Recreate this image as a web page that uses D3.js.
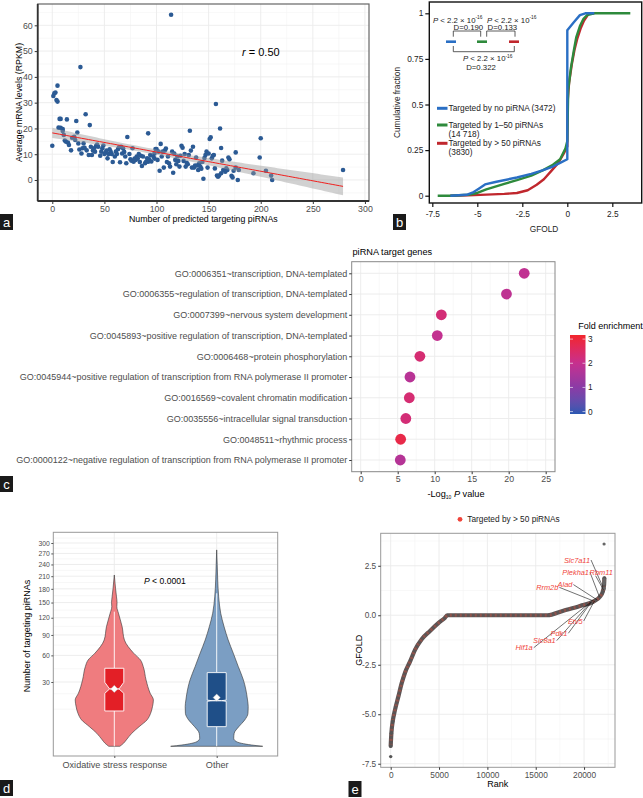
<!DOCTYPE html>
<html><head><meta charset="utf-8">
<script src="https://cdn.jsdelivr.net/npm/d3@7"></script>
<style>
body{margin:0;background:#fff;}
svg text{font-family:"Liberation Sans",Arial,Helvetica,sans-serif;}
</style></head><body>
<svg id="fig" width="643" height="798"></svg>
<script>
// ================= DATA =================
// Panel a: number of predicted targeting piRNAs vs mRNA level
const piCount = [0,1,2,3,4,5,5,7,8,6,8,10,10,11,12,13,14,15,16,18,19,21,22,23,24,25,26,27,28,29,30,31,32,33,35,36,37,38,39,40,41,42,43,44,46,47,48,49,50,51,52,53,54,55,56,57,58,60,61,62,63,64,65,66,67,68,69,70,71,72,74,75,76,77,78,79,80,81,82,83,84,85,86,87,89,90,91,92,92,93,94,95,97,98,98,99,100,101,102,103,104,105,106,107,108,109,110,111,112,113,114,115,116,117,118,119,120,121,122,123,124,125,126,127,128,129,130,131,132,133,134,135,136,137,138,139,140,141,142,143,144,145,146,147,148,149,150,151,152,153,154,155,156,157,158,159,160,161,162,162,163,164,166,167,168,169,170,172,173,174,176,176,178,179,193,199,200,205,210,211,279];
const mrnaLevel = [13.3,32.6,33.6,33.9,31,30.4,36.6,23.7,23.7,20.3,20.2,19.8,19,17.5,15.3,14.9,23.5,14.5,13.6,11.5,16.4,16.8,15.5,22.9,18.4,14.2,11.8,43.8,10.3,12.3,14.2,12.5,25.5,11.5,9.7,21.3,12.9,9.7,11.4,12.3,11,13.2,13.7,12.9,9.4,11,12.3,13.4,10.1,10.6,11.4,8.4,10.1,11.9,11,10.1,7,9.1,11,10.1,11.9,12.7,6.9,12.9,10.3,12.2,10.9,9.1,6.5,16.7,10.1,8,7.5,12.3,7.1,8.3,7.8,9.1,8.3,10.1,7,9.4,5.4,9.1,6.5,7.1,8.4,7.1,18.1,8,9.7,7.2,9.1,8.3,10.3,12,12,7.8,11,3.6,14,9.1,11,4.8,11.4,12.2,7,9.1,6.5,5.2,64.1,11,2.8,10.3,7.8,6.1,9.1,7.4,5.2,9.4,13.3,12.5,7.4,10.1,5.2,6.7,6.1,9.7,19.1,11.4,4.8,12.9,4.8,5.6,8.7,5.6,3.9,6.5,5.2,4.4,7,0.5,8.5,9.7,11,4.8,10.3,15.9,16.6,8.4,9.4,9.7,4.5,29.5,1.7,1.3,1.7,20,12.4,2.6,7.5,3.9,3.2,4.5,3.9,8.7,8,1.6,1,3.6,4.8,10.7,0,3.9,2.6,8.7,16.2,3.6,1.7,0,3.9];
const aXTicks = [0,50,100,150,200,250,300];
const aYTicks = [0,10,20,30,40,50,60];

// Panel b: cumulative distributions of GFOLD
const bBlueX  = [-6.5,-5.6,-5.2,-4.9,-4.57,-4.0,-2.8,-2.0,-1.34,-0.8,-0.4,0,0,0.35,0.7,1.0,1.5];
const bBlueY  = [0,0.005,0.02,0.04,0.062,0.075,0.10,0.12,0.14,0.16,0.18,0.2,0.907,0.95,0.99,1,1];
const bGreenX = [-7.2,-6.5,-5.5,-5.0,-4.5,-3.5,-2.8,-2.0,-1.34,-0.8,-0.4,-0.1,0,0.05,0.2,0.37,0.5,0.7,0.9,1.1,1.5,2.5,3.5];
const bGreenY = [0,0,0.005,0.015,0.035,0.065,0.085,0.11,0.14,0.17,0.2,0.26,0.3,0.58,0.7,0.8,0.87,0.93,0.97,0.99,1,1,1];
const bRedX   = [-6.5,-5.5,-4.5,-3.5,-2.8,-2.2,-1.7,-1.3,-0.85,-0.5,-0.2,0,0.02,0.1,0.25,0.4,0.55,0.75,0.93,1.2,1.5];
const bRedY   = [0,0.002,0.006,0.01,0.015,0.03,0.06,0.09,0.14,0.18,0.23,0.27,0.52,0.62,0.72,0.8,0.86,0.92,0.96,1,1];
const bXTicks = [-7.5,-5,-2.5,0,2.5];
const bXTickLabels = ["-7.5","-5","-2.5","0","2.5"];
const bYTicks = [0,0.25,0.5,0.75,1];
const bYTickLabels = ["0","0.25","0.5","0.75","1"];
const bLegend = ["Targeted by no piRNA (3472)","Targeted by 1–50 piRNAs","Targeted by > 50 piRNAs"];
const bLegendSub = ["","(14 718)","(3830)"];

// Panel c: GO enrichment
const goTerms = [
 "GO:0006351~transcription, DNA-templated",
 "GO:0006355~regulation of transcription, DNA-templated",
 "GO:0007399~nervous system development",
 "GO:0045893~positive regulation of transcription, DNA-templated",
 "GO:0006468~protein phosphorylation",
 "GO:0045944~positive regulation of transcription from RNA polymerase II promoter",
 "GO:0016569~covalent chromatin modification",
 "GO:0035556~intracellular signal transduction",
 "GO:0048511~rhythmic process",
 "GO:0000122~negative regulation of transcription from RNA polymerase II promoter"];
const goLogP = [22.1,19.7,10.9,10.35,8.0,6.66,6.57,6.1,5.4,5.35];
const goFold = [1.9,1.85,2.3,1.95,2.35,1.75,2.35,2.3,2.85,1.7];
const cXTicks = [0,5,10,15,20,25];
const cLegendTicks = [0,1,2,3];

// Panel d: violins
const dGroups = ["Oxidative stress response","Other"];
const dRedV = [0,0.065,0.29,1.23,2.79,5.03,7.9,11.4,15.6,20.4,32,46,54,63,82,104,128.6,141.6,150,162,180,213];
const dRedD = [0.12,0.2,0.26,0.38,0.54,0.71,0.79,0.83,0.85,0.78,0.69,0.63,0.57,0.42,0.22,0.17,0.09,0.055,0.06,0.048,0.028,0];
const dBlueV = [0,0.012,0.065,0.2,0.47,1.23,2.79,5.03,7.9,11.4,15.6,32,46,63,82,104,128.6,162,201,240,280];
const dBlueD = [1.0,0.76,0.54,0.41,0.37,0.38,0.48,0.61,0.68,0.685,0.67,0.58,0.47,0.36,0.25,0.16,0.087,0.043,0.022,0.011,0];
const dQ1 = [9.06,2.8], dMed = [23.9,15.1], dQ3 = [44.2,39.4];
const dWhiskLo = [0,0], dWhiskHi = [131.6,170];
const dNotchLo = [20.4,14.7], dNotchHi = [29.7,15.5];
const dMean = [23.9,17.2];
const dYTicks = [30,60,90,120,150,180,210,240,270,300];
const dYExtraGrid = [10,20];
const dPText = "P < 0.0001";

// Panel e: ranked GFOLD
const eRank  = [0,0,70,207,445,790,1138,1480,1997,2514,3207,4066,4924,5618,5856,16200,17860,19583,20960,21650,21930,22070,22100];
const eGfold = [-7.14,-6.6,-5.96,-5.37,-4.78,-4.11,-3.43,-2.9,-2.34,-1.75,-1.21,-0.79,-0.40,-0.12,0,0,0.23,0.47,0.69,0.94,1.19,1.53,1.87];
const eTailRank = [22070,22090,22100,22080,22070];
const eTailGfold = [3.6,1.7,1.8,1.35,1.6];
const eGenes = ["Slc7a11","Plekha1","Rbm11","Rrm2b","Alad","Etv5","Pdk1","Slc8a1","Hif1a"];
const eGeneRank = [21930,21580,22010,21140,21370,21030,20790,20690,20620];
const eGeneGfold = [1.44,0.94,1.28,0.69,0.77,0.69,0.69,0.66,0.64];
const eXTicks = [0,5000,10000,15000,20000];
const eYTicks = [2.5,0,-2.5,-5,-7.5];
const eYTickLabels = ["2.5","0.0","-2.5","-5.0","-7.5"];
// label placement (layout, in data units) for repelled gene labels
const eLabelRank  = [20620,20510,20570,17340,18790,19860,18270,17070,14690];
const eLabelGfold = [2.79,2.17,2.15,1.41,1.55,-0.29,-0.91,-1.28,-1.64];
const eLabelAnchor = ["end","end","start","end","end","end","end","end","end"];

// ================= DRAW =================
const svg = d3.select("#fig");
const GRID_MAJ = "#ebebeb", GRID_MIN = "#f4f4f4", TICKTXT = "#4d4d4d";

function label(g, x, y, s){
  g.append("rect").attr("x",x).attr("y",y).attr("width",13).attr("height",16).attr("fill","#1a1a1a");
  g.append("text").attr("x",x+6.5).attr("y",y+12.5).attr("text-anchor","middle").attr("fill","#fff")
   .attr("font-size",13).text(s);
}

// ---------- Panel a ----------
(function(){
  const g = svg.append("g");
  const A = {l:37.7,r:369,t:4,b:201};
  const x = d3.scaleLinear().domain([-14.0,303.9]).range([A.l,A.r]);
  const y = d3.scaleLinear().domain([-8.15,68.27]).range([A.b,A.t]);
  const minorX = d3.range(25,300,50), minorY = d3.range(-5,70,10);
  g.selectAll(".mx").data(minorX).join("line").attr("x1",x).attr("x2",x).attr("y1",A.t).attr("y2",A.b).attr("stroke",GRID_MIN).attr("stroke-width",0.6);
  g.selectAll(".my").data(minorY).join("line").attr("y1",y).attr("y2",y).attr("x1",A.l).attr("x2",A.r).attr("stroke",GRID_MIN).attr("stroke-width",0.6);
  g.selectAll(".Mx").data(aXTicks).join("line").attr("x1",x).attr("x2",x).attr("y1",A.t).attr("y2",A.b).attr("stroke",GRID_MAJ).attr("stroke-width",0.9);
  g.selectAll(".My").data(aYTicks).join("line").attr("y1",y).attr("y2",y).attr("x1",A.l).attr("x2",A.r).attr("stroke",GRID_MAJ).attr("stroke-width",0.9);

  // linear fit with 95% CI computed from the points
  const n = piCount.length;
  const mx = d3.mean(piCount), my = d3.mean(mrnaLevel);
  let sxx=0,sxy=0; for(let i=0;i<n;i++){sxx+=(piCount[i]-mx)**2; sxy+=(piCount[i]-mx)*(mrnaLevel[i]-my);}
  const slope = sxy/sxx, inter = my - slope*mx;
  let sse=0; for(let i=0;i<n;i++){sse+=(mrnaLevel[i]-inter-slope*piCount[i])**2;}
  const s = Math.sqrt(sse/(n-2)), t = 1.973;
  const xs = d3.range(d3.min(piCount), d3.max(piCount)+0.01, (d3.max(piCount)-d3.min(piCount))/80);
  const band = xs.map(v=>{const se = s*Math.sqrt(1/n+(v-mx)**2/sxx); const f = inter+slope*v; return {v,lo:f-t*se,hi:f+t*se,f};});

  g.selectAll(".pt").data(piCount).join("circle").attr("cx",d=>x(d)).attr("cy",(d,i)=>y(mrnaLevel[i])).attr("r",2.3).attr("fill","#2b5a94");
  g.append("path").datum(band).attr("d",d3.area().x(d=>x(d.v)).y0(d=>y(d.lo)).y1(d=>y(d.hi))).attr("fill","#999").attr("opacity",0.45);
  g.append("path").datum(band).attr("d",d3.line().x(d=>x(d.v)).y(d=>y(d.f))).attr("fill","none").attr("stroke","#f0201e").attr("stroke-width",1);

  g.append("rect").attr("x",A.l).attr("y",A.t).attr("width",A.r-A.l).attr("height",A.b-A.t).attr("fill","none").attr("stroke","#666").attr("stroke-width",1.2);
  g.append("line").attr("x1",A.l).attr("x2",A.l).attr("y1",A.t).attr("y2",A.b).attr("stroke","#333").attr("stroke-width",1.8);
  g.append("line").attr("x1",A.l).attr("x2",A.r).attr("y1",A.b).attr("y2",A.b).attr("stroke","#333").attr("stroke-width",1.8);

  const ax = g.append("g").attr("transform",`translate(0,${A.b})`).call(d3.axisBottom(x).tickValues(aXTicks).tickSize(3).tickPadding(2));
  const ay = g.append("g").attr("transform",`translate(${A.l},0)`).call(d3.axisLeft(y).tickValues(aYTicks).tickSize(3).tickPadding(2));
  [ax,ay].forEach(a=>{a.select(".domain").remove(); a.selectAll("line").attr("stroke","#333"); a.selectAll("text").attr("font-size",8.8).attr("fill",TICKTXT).attr("font-family",null);});
  g.append("text").attr("x",(A.l+A.r)/2).attr("y",221.5).attr("text-anchor","middle").attr("font-size",8.8).text("Number of predicted targeting piRNAs");
  g.append("text").attr("transform",`translate(21.5,${(A.t+A.b)/2}) rotate(-90)`).attr("text-anchor","middle").attr("font-size",8.8).text("Average mRNA levels (RPKM)");
  const rt = g.append("text").attr("x",242).attr("y",55.5).attr("font-size",11);
  rt.append("tspan").attr("font-style","italic").text("r");
  rt.append("tspan").text(" = 0.50");
  label(g,0,214,"a");
})();

// ---------- Panel b ----------
(function(){
  const g = svg.append("g");
  const B = {l:429.3,r:641.7,t:2,b:203};
  const x = d3.scaleLinear().domain([-7.667,4.133]).range([B.l,B.r]);
  const y = d3.scaleLinear().domain([-0.04,1.062]).range([B.b,B.t]);
  const line = d3.line().x(d=>x(d[0])).y(d=>y(d[1]));
  const series = [
    {xs:bRedX, ys:bRedY, c:"#c0272d"},
    {xs:bGreenX, ys:bGreenY, c:"#2e8a3c"},
    {xs:bBlueX, ys:bBlueY, c:"#2a6fc4"}];
  series.forEach(s=>{
    g.append("path").datum(s.xs.map((v,i)=>[v,s.ys[i]])).attr("d",line).attr("fill","none").attr("stroke",s.c).attr("stroke-width",2.4).attr("stroke-linejoin","round");
  });
  g.append("rect").attr("x",B.l).attr("y",B.t).attr("width",B.r-B.l).attr("height",B.b-B.t).attr("fill","none").attr("stroke","#111").attr("stroke-width",1.4);
  const ax = g.append("g").attr("transform",`translate(0,${B.b})`).call(d3.axisBottom(x).tickValues(bXTicks).tickFormat((d,i)=>bXTickLabels[i]).tickSize(4).tickPadding(4));
  const ay = g.append("g").attr("transform",`translate(${B.l},0)`).call(d3.axisLeft(y).tickValues(bYTicks).tickFormat((d,i)=>bYTickLabels[i]).tickSize(4).tickPadding(2));
  [ax,ay].forEach(a=>{a.select(".domain").remove(); a.selectAll("line").attr("stroke","#111").attr("stroke-width",1.2); a.selectAll("text").attr("font-size",8.3).attr("fill","#222").attr("font-family",null);});
  g.append("text").attr("x",544).attr("y",232).attr("text-anchor","middle").attr("font-size",8.3).attr("fill","#222").text("GFOLD");
  g.append("text").attr("transform",`translate(400,${(B.t+B.b)/2}) rotate(-90)`).attr("text-anchor","middle").attr("font-size",8.3).attr("fill","#222").text("Cumulative fraction");

  // legend
  const cols = ["#2a6fc4","#2e8a3c","#c0272d"];
  const ly = [108.3,125,143.3];
  bLegend.forEach((t,i)=>{
    g.append("line").attr("x1",437).attr("x2",447.5).attr("y1",ly[i]).attr("y2",ly[i]).attr("stroke",cols[i]).attr("stroke-width",3);
    g.append("text").attr("x",448.5).attr("y",ly[i]+3).attr("font-size",8.3).attr("fill","#222").text(t);
    if(bLegendSub[i]) g.append("text").attr("x",448.5).attr("y",ly[i]+11.5).attr("font-size",8.3).attr("fill","#222").text(bLegendSub[i]);
  });

  // KS annotation
  function ptext(px,py,anchor){
    const t = g.append("text").attr("x",px).attr("y",py).attr("font-size",7.8).attr("fill","#222").attr("text-anchor",anchor);
    t.append("tspan").attr("font-style","italic").text("P");
    t.append("tspan").text(" < 2.2 × 10");
    t.append("tspan").attr("font-size",4.8).attr("dy",-3.5).text("-16");
  }
  ptext(433,22.5,"start"); ptext(487,22.5,"start"); ptext(463,61,"start");
  g.append("text").attr("x",453.5).attr("y",30.3).attr("font-size",7.8).attr("fill","#222").text("D=0.190");
  g.append("text").attr("x",487.5).attr("y",30.3).attr("font-size",7.8).attr("fill","#222").text("D=0.133");
  g.append("text").attr("x",481).attr("y",69.8).attr("font-size",7.8).attr("fill","#222").attr("text-anchor","middle").text("D=0.322");
  const brk = g.append("g").attr("fill","none").attr("stroke","#333").attr("stroke-width",0.8);
  brk.append("path").attr("d","M453.3,36.7V31H480.7V36.7");
  brk.append("path").attr("d","M486.7,36.7V31H515V36.7");
  brk.append("path").attr("d","M453.3,46V51.7H514.3V46");
  [[446,456,cols[0]],[477,487,cols[1]],[509,519,cols[2]]].forEach(s=>{
    g.append("line").attr("x1",s[0]).attr("x2",s[1]).attr("y1",41.7).attr("y2",41.7).attr("stroke",s[2]).attr("stroke-width",2.6);
  });
  label(g,393,214,"b");
})();

// ---------- Panel c ----------
(function(){
  const g = svg.append("g");
  const C = {l:351.7,r:555,t:261.7,b:471.7};
  const x = d3.scaleLinear().domain([-1.216,26.26]).range([C.l,C.r]);
  const y = d3.scalePoint().domain(goTerms).range([273.3,460]);
  const col = d3.scaleLinear().domain([-0.1,1,2,3.17]).range(["#2a58b2","#8a3aa6","#c6308f","#f2262c"]).interpolate(d3.interpolateLab);
  g.selectAll(".mx").data(d3.range(2.5,26,5)).join("line").attr("x1",x).attr("x2",x).attr("y1",C.t).attr("y2",C.b).attr("stroke",GRID_MIN).attr("stroke-width",0.6);
  g.selectAll(".Mx").data(cXTicks).join("line").attr("x1",x).attr("x2",x).attr("y1",C.t).attr("y2",C.b).attr("stroke",GRID_MAJ).attr("stroke-width",0.9);
  g.selectAll(".My").data(goTerms).join("line").attr("y1",d=>y(d)).attr("y2",d=>y(d)).attr("x1",C.l).attr("x2",C.r).attr("stroke",GRID_MAJ).attr("stroke-width",0.9);
  g.append("rect").attr("x",C.l).attr("y",C.t).attr("width",C.r-C.l).attr("height",C.b-C.t).attr("fill","none").attr("stroke","#888").attr("stroke-width",1);
  g.selectAll(".dot").data(goTerms).join("circle").attr("cx",(d,i)=>x(goLogP[i])).attr("cy",d=>y(d)).attr("r",5.4).attr("fill",(d,i)=>col(goFold[i]));
  const ax = g.append("g").attr("transform",`translate(0,${C.b})`).call(d3.axisBottom(x).tickValues(cXTicks).tickSize(2.5).tickPadding(2));
  const ay = g.append("g").attr("transform",`translate(${C.l},0)`).call(d3.axisLeft(y).tickSize(2.5).tickPadding(2));
  [ax,ay].forEach(a=>{a.select(".domain").remove(); a.selectAll("line").attr("stroke","#333"); a.selectAll("text").attr("font-size",8.8).attr("fill",TICKTXT).attr("font-family",null);});
  ay.selectAll("text").attr("font-size",9.0);
  g.append("text").attr("x",352.5).attr("y",255).attr("font-size",9.2).text("piRNA target genes");
  const xt = g.append("text").attr("x",456).attr("y",496.5).attr("text-anchor","middle").attr("font-size",9.2);
  xt.append("tspan").text("-Log");
  xt.append("tspan").attr("font-size",5).attr("dy",2.5).text("10");
  xt.append("tspan").attr("dy",-2.5).text(" ");
  xt.append("tspan").attr("font-style","italic").text("P");
  xt.append("tspan").text(" value");

  // colour bar legend
  const ly = d3.scaleLinear().domain([-0.1,3.17]).range([414,335]);
  const defs = svg.append("defs");
  const grad = defs.append("linearGradient").attr("id","fe").attr("x1",0).attr("x2",0).attr("y1",1).attr("y2",0);
  d3.range(0,1.0001,0.05).forEach(t=>{grad.append("stop").attr("offset",t).attr("stop-color",col(-0.1+t*3.27));});
  g.append("rect").attr("x",570).attr("y",ly(3.17)).attr("width",15.5).attr("height",ly(-0.1)-ly(3.17)).attr("fill","url(#fe)");
  cLegendTicks.forEach(v=>{
    g.append("line").attr("x1",570).attr("x2",573).attr("y1",ly(v)).attr("y2",ly(v)).attr("stroke","#fff").attr("stroke-width",0.6);
    g.append("line").attr("x1",582.5).attr("x2",585.5).attr("y1",ly(v)).attr("y2",ly(v)).attr("stroke","#fff").attr("stroke-width",0.6);
    g.append("text").attr("x",588).attr("y",ly(v)+3).attr("font-size",8.3).attr("fill","#222").text(v);
  });
  g.append("text").attr("x",578.3).attr("y",328.5).attr("font-size",9).text("Fold enrichment");
  label(g,0,476,"c");
})();

// ---------- Panel d ----------
(function(){
  const g = svg.append("g");
  const D = {l:53.3,r:277.7,t:532.3,b:756};
  const y = d3.scaleSqrt().domain([0,300]).range([746.3,543]);
  const x = d3.scalePoint().domain(dGroups).range([114.3,216.7]);
  const w = d3.scaleLinear().domain([0,1]).range([0,46]);
  const minor = [];
  for(let i=0;i<dYTicks.length-1;i++){ const a=Math.sqrt(dYTicks[i]), b=Math.sqrt(dYTicks[i+1]); minor.push(((a+b)/2)**2); }
  minor.push(((Math.sqrt(300)+Math.sqrt(330))/2)**2);
  g.selectAll(".mn").data(minor.concat(dYExtraGrid)).join("line").attr("y1",d=>y(d)).attr("y2",d=>y(d)).attr("x1",D.l).attr("x2",D.r).attr("stroke",GRID_MIN).attr("stroke-width",0.7);
  g.selectAll(".mj").data(dYTicks).join("line").attr("y1",d=>y(d)).attr("y2",d=>y(d)).attr("x1",D.l).attr("x2",D.r).attr("stroke",GRID_MAJ).attr("stroke-width",0.9);
  g.selectAll(".mv").data(dGroups).join("line").attr("x1",d=>x(d)).attr("x2",d=>x(d)).attr("y1",D.t).attr("y2",D.b).attr("stroke",GRID_MAJ).attr("stroke-width",0.9);

  const vio = [
    {g:dGroups[0], v:dRedV, d:dRedD, fill:"#ef7c7f", box:"#e31f26"},
    {g:dGroups[1], v:dBlueV, d:dBlueD, fill:"#7b9ec3", box:"#1f4f88"}];
  vio.forEach((o,k)=>{
    const cx = x(o.g);
    const pts = o.v.map((v,i)=>({v,d:o.d[i]}));
    const area = d3.area().y(p=>y(p.v)).x0(p=>cx-w(p.d)).x1(p=>cx+w(p.d)).curve(d3.curveMonotoneY);
    g.append("path").datum(pts).attr("d",area).attr("fill",o.fill).attr("stroke","#333").attr("stroke-width",0.6);
    g.append("line").attr("x1",cx).attr("x2",cx).attr("y1",y(dWhiskLo[k])).attr("y2",y(dQ1[k])).attr("stroke","#fff").attr("stroke-width",0.9);
    g.append("line").attr("x1",cx).attr("x2",cx).attr("y1",y(dQ3[k])).attr("y2",y(dWhiskHi[k])).attr("stroke","#fff").attr("stroke-width",0.9);
    const hw = 9.5, nw = 4.8;
    const p = d3.path();
    p.moveTo(cx-hw,y(dQ1[k])); p.lineTo(cx-hw,y(dNotchLo[k])); p.lineTo(cx-hw+nw,y(dMed[k])); p.lineTo(cx-hw,y(dNotchHi[k]));
    p.lineTo(cx-hw,y(dQ3[k])); p.lineTo(cx+hw,y(dQ3[k])); p.lineTo(cx+hw,y(dNotchHi[k])); p.lineTo(cx+hw-nw,y(dMed[k]));
    p.lineTo(cx+hw,y(dNotchLo[k])); p.lineTo(cx+hw,y(dQ1[k])); p.closePath();
    g.append("path").attr("d",p.toString()).attr("fill",o.box).attr("stroke","#fff").attr("stroke-width",0.9);
    g.append("line").attr("x1",cx-hw+nw).attr("x2",cx+hw-nw).attr("y1",y(dMed[k])).attr("y2",y(dMed[k])).attr("stroke","#fff").attr("stroke-width",1.2);
    const my = y(dMean[k]);
    g.append("path").attr("d",`M${cx},${my-3.6}L${cx+3.6},${my}L${cx},${my+3.6}L${cx-3.6},${my}Z`).attr("fill","#fff").attr("stroke","#bbb").attr("stroke-width",0.4);
  });
  g.append("rect").attr("x",D.l).attr("y",D.t).attr("width",D.r-D.l).attr("height",D.b-D.t).attr("fill","none").attr("stroke","#999").attr("stroke-width",1);
  const ay = g.append("g").attr("transform",`translate(${D.l},0)`).call(d3.axisLeft(y).tickValues(dYTicks).tickSize(2).tickPadding(1.5));
  const ax = g.append("g").attr("transform",`translate(0,${D.b})`).call(d3.axisBottom(x).tickSize(2).tickPadding(4));
  [ax,ay].forEach(a=>{a.select(".domain").remove(); a.selectAll("line").attr("stroke","#555");a.selectAll("text").attr("fill",TICKTXT).attr("font-family",null);});
  ay.selectAll("text").attr("font-size",6.8);
  ax.selectAll("text").attr("font-size",9.1);
  g.append("text").attr("transform",`translate(29.5,636) rotate(-90)`).attr("text-anchor","middle").attr("font-size",9).text("Number of targeting piRNAs");
  const pt = g.append("text").attr("x",144).attr("y",583.5).attr("font-size",8.6);
  pt.append("tspan").attr("font-style","italic").text("P");
  pt.append("tspan").text(dPText.slice(1));
  label(g,0,780,"d");
})();

// ---------- Panel e ----------
(function(){
  const g = svg.append("g");
  const E = {l:380.7,r:615,t:533.3,b:767.3};
  const x = d3.scaleLinear().domain([-1034,23200]).range([E.l,E.r]);
  const y = d3.scaleLinear().domain([-7.68,4.14]).range([E.b,E.t]);
  g.selectAll(".mx").data([2500,7500,12500,17500,22500]).join("line").attr("x1",x).attr("x2",x).attr("y1",E.t).attr("y2",E.b).attr("stroke",GRID_MIN).attr("stroke-width",0.6);
  g.selectAll(".my").data([3.75,1.25,-1.25,-3.75,-6.25]).join("line").attr("y1",y).attr("y2",y).attr("x1",E.l).attr("x2",E.r).attr("stroke",GRID_MIN).attr("stroke-width",0.6);
  g.selectAll(".Mx").data(eXTicks).join("line").attr("x1",x).attr("x2",x).attr("y1",E.t).attr("y2",E.b).attr("stroke",GRID_MAJ).attr("stroke-width",0.9);
  g.selectAll(".My").data(eYTicks).join("line").attr("y1",y).attr("y2",y).attr("x1",E.l).attr("x2",E.r).attr("stroke",GRID_MAJ).attr("stroke-width",0.9);

  const pts = eRank.map((r,i)=>[r,eGfold[i]]);
  const ln = d3.line().x(d=>x(d[0])).y(d=>y(d[1])).curve(d3.curveMonotoneX);
  g.append("path").datum(pts.slice(1)).attr("d",ln).attr("fill","none").attr("stroke","#5c5454").attr("stroke-width",4.2).attr("stroke-linecap","round");
  g.append("path").datum(pts.slice(1)).attr("d",ln).attr("fill","none").attr("stroke","#d0503f").attr("stroke-width",3).attr("stroke-dasharray","2 3").attr("opacity",0.45);
  g.selectAll(".ep").data(pts.slice(0,4).concat(pts.slice(-3))).join("circle").attr("cx",d=>x(d[0])).attr("cy",d=>y(d[1])).attr("r",1.7).attr("fill","#555");
  g.selectAll(".tp").data(eTailRank).join("circle").attr("cx",d=>x(d)).attr("cy",(d,i)=>y(eTailGfold[i])).attr("r",1.6).attr("fill","#666");

  eGenes.forEach((gname,i)=>{
    const lx = x(eLabelRank[i]), lyy = y(eLabelGfold[i]);
    const sx = eLabelAnchor[i]==="end" ? lx+1 : lx+6;
    const sy = eLabelAnchor[i]==="end" ? lyy : lyy+3;
    g.append("line").attr("x1",sx).attr("y1",sy).attr("x2",x(eGeneRank[i])).attr("y2",y(eGeneGfold[i])).attr("stroke","#111").attr("stroke-width",0.6);
  });
  eGenes.forEach((gname,i)=>{
    g.append("text").attr("x",x(eLabelRank[i])).attr("y",y(eLabelGfold[i])+2.6).attr("text-anchor",eLabelAnchor[i])
     .attr("font-size",7.4).attr("font-style","italic").attr("fill","#f0443a").text(gname);
  });

  g.append("rect").attr("x",E.l).attr("y",E.t).attr("width",E.r-E.l).attr("height",E.b-E.t).attr("fill","none").attr("stroke","#999").attr("stroke-width",1);
  const ax = g.append("g").attr("transform",`translate(0,${E.b})`).call(d3.axisBottom(x).tickValues(eXTicks).tickFormat(d3.format("d")).tickSize(2.5).tickPadding(2));
  const ay = g.append("g").attr("transform",`translate(${E.l},0)`).call(d3.axisLeft(y).tickValues(eYTicks).tickFormat((d,i)=>eYTickLabels[i]).tickSize(2.5).tickPadding(2));
  [ax,ay].forEach(a=>{a.select(".domain").remove(); a.selectAll("line").attr("stroke","#333"); a.selectAll("text").attr("font-size",8.3).attr("fill",TICKTXT).attr("font-family",null);});
  g.append("text").attr("x",(E.l+E.r)/2).attr("y",786.5).attr("text-anchor","middle").attr("font-size",9).text("Rank");
  g.append("text").attr("transform",`translate(361.5,${(E.t+E.b)/2}) rotate(-90)`).attr("text-anchor","middle").attr("font-size",9).text("GFOLD");
  g.append("circle").attr("cx",460).attr("cy",519.3).attr("r",2.4).attr("fill","#f0443a");
  g.append("text").attr("x",467.3).attr("y",522.3).attr("font-size",8.3).attr("fill","#222").text("Targeted by > 50 piRNAs");
  label(g,348.5,781,"e");
})();
</script>
</body></html>
